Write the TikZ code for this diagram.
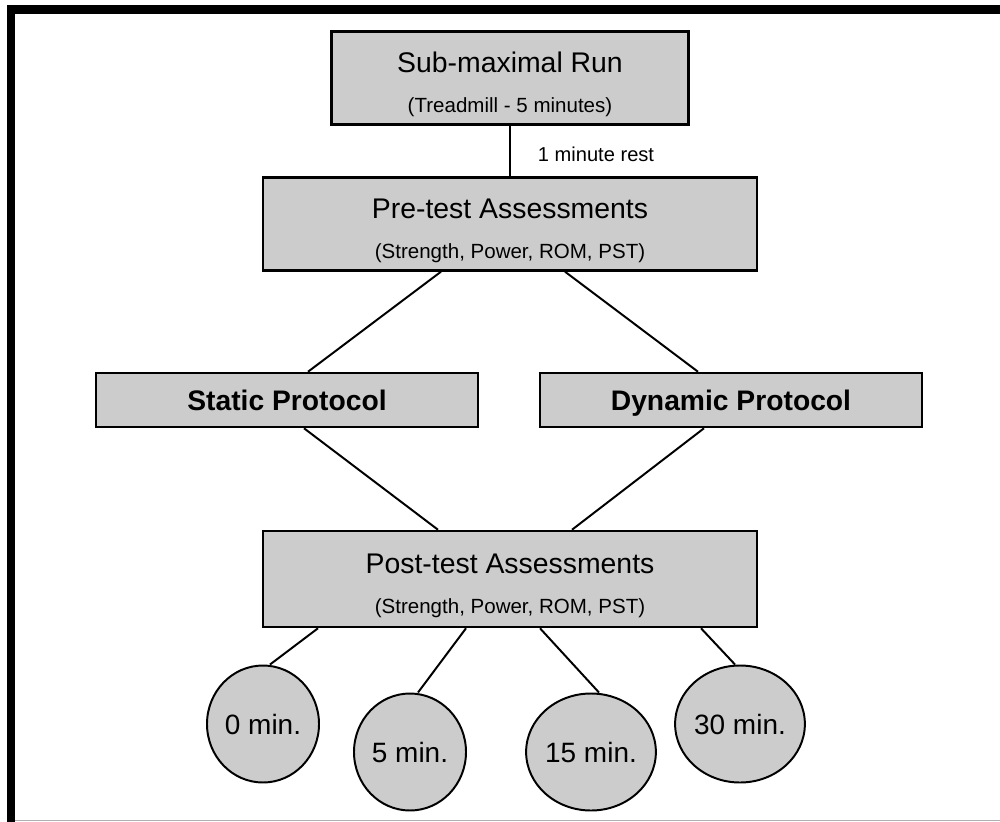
\documentclass[tikz,border=0pt]{standalone}
\usepackage{fontspec}
\setmainfont{Liberation Sans}
\usetikzlibrary{positioning,calc,shapes.geometric}
\definecolor{boxgray}{RGB}{204,204,204}
\definecolor{edgegray}{RGB}{176,176,176}
\newcommand\boxtitle[1]{{\fontsize{20.2}{28.5}\selectfont\rule{0pt}{8.2mm}#1}}

\begin{document}
\begin{tikzpicture}[x=0.25mm, y=-0.25mm,
    box/.style={draw, line width=1.8pt, fill=boxgray, inner sep=0pt, align=center,
      minimum height=23.2mm, font=\fontsize{14.6}{28.5}\selectfont},
    protocol/.style={draw, line width=1.8pt, fill=boxgray, inner sep=0pt,
      minimum width=95.5mm, minimum height=13.5mm, text height=5.2mm, text depth=0pt,
      font=\fontsize{20.1}{24}\selectfont\bfseries},
    timept/.style={ellipse, draw, line width=1.4pt, fill=boxgray, inner sep=0pt,
      minimum width=28mm, minimum height=29.25mm, font=\fontsize{19.9}{24}\selectfont},
    link/.style={line width=1.4pt}]
  \fill[white] (0,0) rectangle (1000,822);
  \useasboundingbox (0,0) rectangle (1000,822);
  \draw[line width=6.4pt] (7,9.5) -- (1000,9.5);
  \draw[line width=5.7pt] (11,5) -- (11,822);
  \draw[edgegray, line width=0.7pt] (15,820.5) -- (1000,820.5);

  \node[box, minimum width=89.25mm] (run) at (510,78)
    {\boxtitle{Sub-maximal Run}\\(Treadmill - 5 minutes)};
  \node[box, minimum width=123.5mm] (pre) at (510,224)
    {\boxtitle{Pre-test Assessments}\\(Strength, Power, ROM, PST)};
  \node[protocol] (static) at (287,400) {Static Protocol};
  \node[protocol] (dynamic) at (731,400) {Dynamic Protocol};
  \node[box, minimum width=123.5mm, minimum height=24mm] (post) at (510,579)
    {\boxtitle{Post-test Assessments}\\(Strength, Power, ROM, PST)};
  \node[font=\fontsize{14.3}{17}\selectfont] (rest) at (596,154) {1 minute rest};
  \foreach \name/\x/\y/\t in {c0/263/724/0, c5/410/752/5, c15/591/752/15, c30/740/724/30}
    \node[timept] (\name) at (\x,\y) {\t{} min.};

  \draw[link] (run.south) -- (pre.north);
  \draw[link] ($(pre.south)+(-69,0)$) -- ($(static.north)+(21,0)$);
  \draw[link] ($(pre.south)+(55,0)$) -- ($(dynamic.north)+(-33,0)$);
  \draw[link] ($(static.south)+(17,0)$) -- ($(post.north)+(-72,0)$);
  \draw[link] ($(dynamic.south)+(-27,0)$) -- ($(post.north)+(62,0)$);
  \foreach \name/\dx/\ex in {c0/-192/7, c5/-44/8, c15/30/8, c30/191/-5}
    \draw[link] ($(post.south)+(\dx,0)$) -- ($(\name.north)+(\ex,0)$);
\end{tikzpicture}
\end{document}
